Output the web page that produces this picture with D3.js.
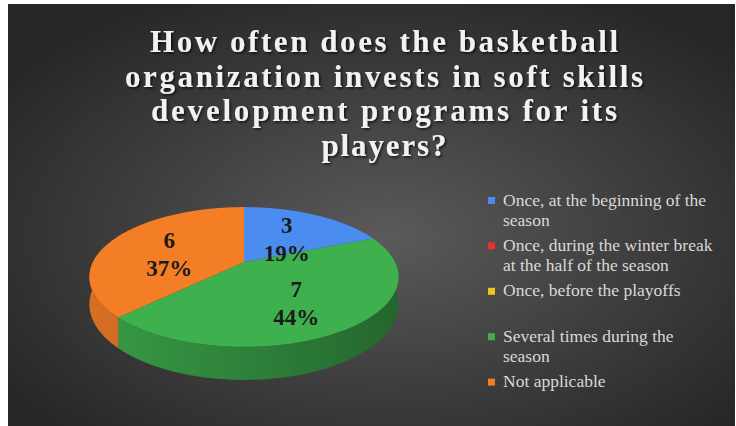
<!DOCTYPE html>
<html>
<head>
<meta charset="utf-8">
<script src="https://cdn.jsdelivr.net/npm/d3@7"></script>
<style>
  html, body { margin: 0; padding: 0; background: #fff; }
  svg { display: block; }
</style>
</head>
<body>
<div id="chart"></div>
<script>
// chart data
var categories = [
  "Once, at the beginning of the season",
  "Once, during the winter break at the half of the season",
  "Once, before the playoffs",
  "Several times during the season",
  "Not applicable"
];
var legendLines = [
  ["Once, at the beginning of the", "season"],
  ["Once, during the winter break", "at the half of the season"],
  ["Once, before the playoffs"],
  ["Several times during the", "season"],
  ["Not applicable"]
];
var counts = [3, 0, 0, 7, 6];
var percentLabels = ["19%", "0%", "0%", "44%", "37%"];
var titleLines = [
  "How often does the basketball",
  "organization invests in soft skills",
  "development programs for its",
  "players?"
];

var width = 736, height = 426;

var color = d3.scaleOrdinal()
    .domain(categories)
    .range(["#4a8cf0", "#e8322e", "#f2c31a", "#3eb04e", "#f47e26"]);

var svg = d3.select("#chart").append("svg")
    .attr("width", width)
    .attr("height", height);

var defs = svg.append("defs");

// background gradient
var bg = defs.append("radialGradient")
    .attr("id", "bg")
    .attr("cx", "52%").attr("cy", "55%").attr("r", "65%");
bg.append("stop").attr("offset", "0%").attr("stop-color", "#5a5a5a");
bg.append("stop").attr("offset", "100%").attr("stop-color", "#262626");

var shadow = defs.append("filter").attr("id", "shadow")
    .attr("x", "-10%").attr("y", "-20%").attr("width", "120%").attr("height", "140%");
shadow.append("feDropShadow")
    .attr("dx", 1.5).attr("dy", 1.5).attr("stdDeviation", 1.2)
    .attr("flood-color", "#000").attr("flood-opacity", 0.7);

svg.append("rect")
    .attr("x", 8).attr("y", 4)
    .attr("width", width - 9).attr("height", height - 4)
    .attr("fill", "url(#bg)");

// title
var title = svg.append("text")
    .attr("text-anchor", "middle")
    .style("font-family", "'Liberation Serif', 'Times New Roman', serif")
    .style("font-weight", "bold")
    .style("font-size", "31px")
    .attr("fill", "#f2f2f2")
    .attr("filter", "url(#shadow)");

var titleWidths = [468, 518, 466, 125];
title.selectAll("tspan")
    .data(titleLines)
    .enter()
    .append("tspan")
    .attr("x", 384)
    .attr("y", function(d, i) { return 52 + i * 34.5; })
    .attr("textLength", function(d, i) { return titleWidths[i]; })
    .attr("lengthAdjust", "spacing")
    .text(function(d) { return d; });

// 3D pie with a little perspective
var cx = 244, rx = 151, ryk = 10.6, persp = 0.214, depth = 26, ryc = 262;

function project(a, r, down) {
  var u = r * Math.sin(a), v = -r * Math.cos(a);
  var den = 1 - persp * v;
  return [cx + rx * u / den, (ryk * v + ryc) / den + (down || 0) / den];
}

function arcPoints(a0, a1, down) {
  var n = Math.max(2, Math.ceil(Math.abs(a1 - a0) / 0.01));
  var pts = [];
  for (var k = 0; k <= n; k++) pts.push(project(a0 + (a1 - a0) * k / n, 1, down));
  return pts;
}

var pie = d3.pie().sort(null).value(function(d) { return d.value; });
var arcs = pie(categories.map(function(c, i) {
  return {name: c, value: counts[i], pct: percentLabels[i]};
})).filter(function(d) { return d.data.value > 0; });

var line = d3.line();
var pieG = svg.append("g");

// side walls: only the front half faces the viewer
arcs.forEach(function(d) {
  var g = defs.append("linearGradient")
      .attr("id", "wall" + d.index)
      .attr("gradientUnits", "userSpaceOnUse")
      .attr("x1", cx - rx).attr("x2", cx + rx).attr("y1", 0).attr("y2", 0);
  var c = d3.color(color(d.data.name));
  g.append("stop").attr("offset", "0%").attr("stop-color", c.darker(0.35));
  g.append("stop").attr("offset", "45%").attr("stop-color", c.darker(0.8));
  g.append("stop").attr("offset", "100%").attr("stop-color", c.darker(1.5));
});

arcs.forEach(function(d) {
  var a0 = Math.max(d.startAngle, Math.PI / 2 - 0.25);
  var a1 = Math.min(d.endAngle, 3 * Math.PI / 2 + 0.25);
  if (a1 <= a0) return;
  var top = arcPoints(a0, a1, 0);
  var bottom = arcPoints(a1, a0, depth);
  pieG.append("path")
      .attr("d", line(top.concat(bottom)) + "Z")
      .attr("fill", "url(#wall" + d.index + ")");
});

// top faces
pieG.selectAll(".slice")
    .data(arcs)
    .enter()
    .append("path")
    .attr("class", "slice")
    .attr("d", function(d) {
      return line([project(0, 0)].concat(arcPoints(d.startAngle, d.endAngle, 0))) + "Z";
    })
    .attr("fill", function(d) { return color(d.data.name); });

// data labels
var labels = pieG.selectAll(".label")
    .data(arcs)
    .enter()
    .append("text")
    .attr("class", "label")
    .attr("text-anchor", "middle")
    .style("font-family", "'Liberation Serif', 'Times New Roman', serif")
    .style("font-weight", "bold")
    .style("font-size", "23px")
    .attr("fill", "#1a1a1a")
    .attr("transform", function(d) {
      var p = project((d.startAngle + d.endAngle) / 2, 0.56, 8);
      return "translate(" + p[0] + "," + p[1] + ")";
    });

labels.append("tspan").attr("x", 0).attr("y", -8).text(function(d) { return d.data.value; });
labels.append("tspan").attr("x", 0).attr("y", 20).text(function(d) { return d.data.pct; });

// legend
var legend = svg.selectAll(".legend")
    .data(categories)
    .enter()
    .append("g")
    .attr("class", "legend")
    .attr("transform", function(d, i) { return "translate(488," + (200.5 + i * 45.4) + ")"; });

legend.append("rect")
    .attr("x", 0).attr("y", -3.5)
    .attr("width", 7).attr("height", 7)
    .attr("fill", function(d) { return color(d); });

legend.append("text")
    .style("font-family", "'Liberation Serif', 'Times New Roman', serif")
    .style("font-size", "17.5px")
    .attr("fill", "#d9d9d9")
    .selectAll("tspan")
    .data(function(d, i) { return legendLines[i]; })
    .enter()
    .append("tspan")
    .attr("x", 15)
    .attr("y", function(d, j) { return 5 + j * 20; })
    .text(function(d) { return d; });
</script>
</body>
</html>
